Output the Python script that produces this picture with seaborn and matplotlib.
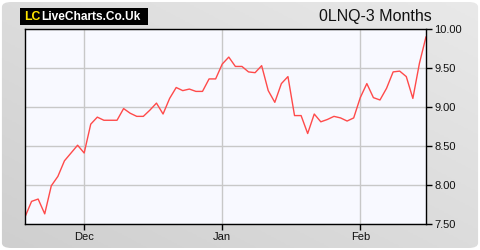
import numpy as np
import pandas as pd
import matplotlib
matplotlib.use("Agg")
import matplotlib.pyplot as plt
from matplotlib.patches import FancyBboxPatch
import seaborn as sns

# ---- data ----
values = [7.59, 7.79, 7.82, 7.63, 7.99, 8.11, 8.31, 8.41, 8.51, 8.41,
          8.78, 8.87, 8.83, 8.83, 8.83, 8.98, 8.92, 8.88, 8.88, 8.96,
          9.05, 8.91, 9.11, 9.25, 9.21, 9.23, 9.20, 9.20, 9.36, 9.36,
          9.55, 9.64, 9.52, 9.52, 9.45, 9.44, 9.53, 9.21, 9.06, 9.30,
          9.39, 8.89, 8.89, 8.66, 8.91, 8.81, 8.84, 8.88, 8.86, 8.82,
          8.86, 9.12, 9.30, 9.12, 9.09, 9.24, 9.45, 9.46, 9.39, 9.11,
          9.56, 9.90]
tick_labels = ["Dec", "Jan", "Feb"]
tick_index = [9, 30, 51]
y_ticks = [7.5, 8.0, 8.5, 9.0, 9.5, 10.0]
title = "0LNQ-3 Months"

df = pd.DataFrame({"i": np.arange(len(values)), "price": values})

sns.set_style("white")
plt.rcParams["font.family"] = ["Liberation Sans", "DejaVu Sans"]

fig = plt.figure(figsize=(4.8, 2.5), dpi=100)
fig.patch.set_facecolor("white")

# background panel with gradient and rounded corners
bg = fig.add_axes([0, 0, 1, 1])
bg.set_xlim(0, 1)
bg.set_ylim(0, 1)
bg.axis("off")
gx, gy = np.meshgrid(np.linspace(0, 1, 200), np.linspace(0, 1, 100))
grad = 0.5 * gx + 0.5 * gy
cmap = matplotlib.colors.LinearSegmentedColormap.from_list("g", ["#cfcfcf", "#e9e9e9"])
im = bg.imshow(grad, extent=[0, 1, 0, 1], origin="lower", cmap=cmap, aspect="auto", zorder=0)
panel = FancyBboxPatch((0.004, 0.008), 0.992, 0.984,
                       boxstyle="round,pad=0,rounding_size=0.02",
                       transform=bg.transAxes, facecolor="none", edgecolor="none")
bg.add_patch(panel)
im.set_clip_path(panel)

# logo
bg.add_patch(plt.Rectangle((20/480, 1-25/250), 128/480, 17/250,
                           facecolor="black", edgecolor="none", transform=bg.transAxes))
bg.text(24/480, 1-16.5/250, "LC", color="#ffe600", fontsize=8.8, fontweight="bold",
        va="center", ha="left", transform=bg.transAxes)
bg.text(41/480, 1-16.5/250, "LiveCharts.Co.Uk", color="white", fontsize=8.6,
        fontweight="bold", va="center", ha="left", transform=bg.transAxes)
bg.text(432/480, 1-16/250, title, color="#111111", fontsize=11.5,
        va="center", ha="right", transform=bg.transAxes)

ax = fig.add_axes([25/480, 26/250, 401/480, 195/250])
ax.set_facecolor("#f8f9ff")
sns.lineplot(data=df, x="i", y="price", ax=ax, color="#ff4a4a", linewidth=1.0)

ax.set_xlim(0, len(values) - 1)
ax.set_ylim(7.5, 10.0)
ax.set_xticks(tick_index)
ax.set_xticklabels(tick_labels)
ax.set_yticks(y_ticks)
ax.set_yticklabels([f"{v:.2f}" for v in y_ticks])
ax.yaxis.tick_right()
ax.set_xlabel("")
ax.set_ylabel("")
ax.grid(True, color="#c8c8c8", linewidth=1.0)
ax.set_axisbelow(True)
for s in ax.spines.values():
    s.set_visible(True)
    s.set_color("black")
    s.set_linewidth(1.0)
ax.tick_params(axis="y", which="both", right=True, left=False, length=4, width=1,
               color="black", labelsize=8, labelcolor="#111111", pad=2, direction="out")
ax.tick_params(axis="x", which="both", bottom=True, length=4, width=1,
               color="black", labelsize=8, labelcolor="#111111", pad=2, direction="out")

fig.savefig("out.png", dpi=100, facecolor=fig.get_facecolor())
